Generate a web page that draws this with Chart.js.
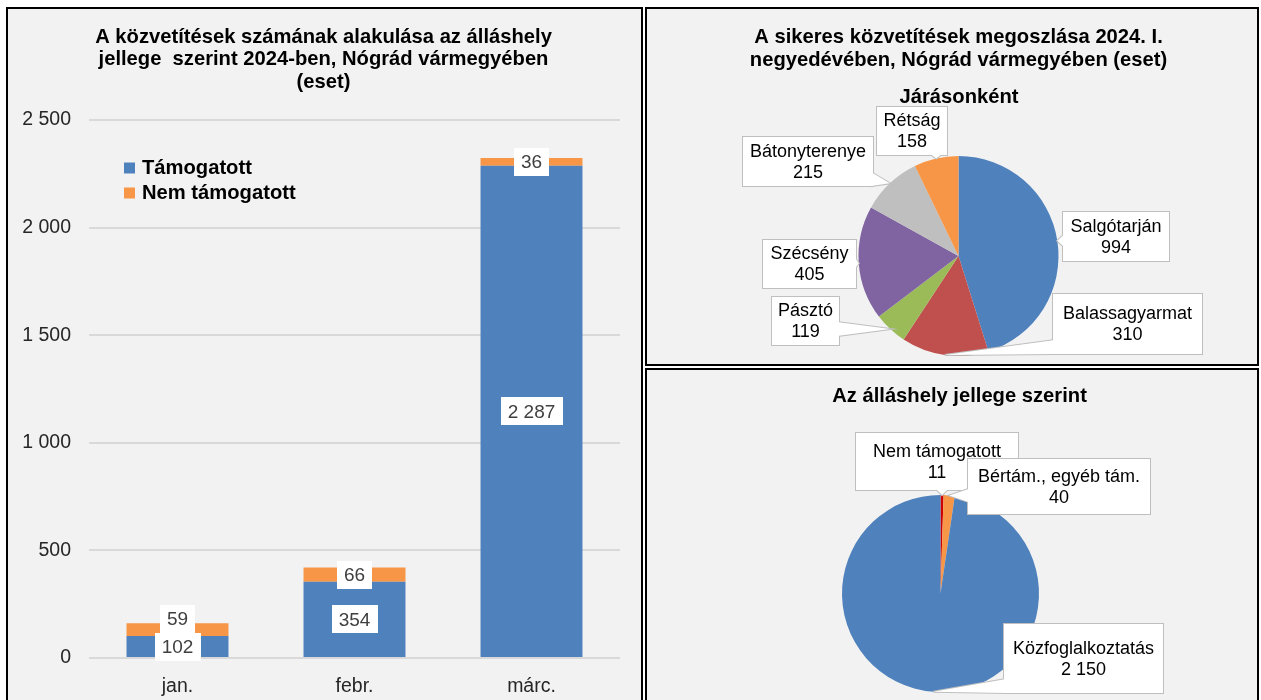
<!DOCTYPE html>
<html><head><meta charset="utf-8">
<script src="https://cdn.jsdelivr.net/npm/chart.js@4.4.1/dist/chart.umd.min.js"></script>
<style>
html,body{margin:0;padding:0;background:#fff;width:1261px;height:700px;overflow:hidden;}
.panel{position:absolute;box-sizing:border-box;border:2px solid #000;background:#f2f2f2;}
.panel canvas{display:block;}
#p1{left:6px;top:7px;width:637px;height:697px;}
#p2{left:645px;top:7px;width:614px;height:359px;}
#p3{left:645px;top:368px;width:614px;height:336px;}
</style></head><body>
<div class="panel" id="p1"><canvas id="c1" width="633" height="693"></canvas></div>
<div class="panel" id="p2"><canvas id="c2" width="610" height="355"></canvas></div>
<div class="panel" id="p3"><canvas id="c3" width="610" height="332"></canvas></div>
<script>
// ---- data ----
const months = ['jan.', 'febr.', 'márc.'];
const seriesNames = ['Támogatott', 'Nem támogatott'];
const supported = [102, 354, 2287];
const notSupported = [59, 66, 36];
const yTicks = [0, 500, 1000, 1500, 2000, 2500];

const districts = ['Salgótarján', 'Balassagyarmat', 'Pásztó', 'Szécsény', 'Bátonyterenye', 'Rétság'];
const districtValues = [994, 310, 119, 405, 215, 158];

const jobTypes = ['Nem támogatott', 'Bértám., egyéb tám.', 'Közfoglalkoztatás'];
const jobTypeValues = [11, 40, 2150];

// ---- styles ----
const FONT = "'Liberation Sans', Arial, sans-serif";
const BOLD = 'bold 20.2px ' + FONT;
const fmt = v => String(v).replace(/\B(?=(\d{3})+(?!\d))/g, ' ');
Chart.defaults.font.family = FONT;
Chart.defaults.animation = false;

const panelTitle = {
  id: 'panelTitle',
  afterDraw(chart, args, opts) {
    const ctx = chart.ctx; ctx.save();
    ctx.fillStyle = '#000'; ctx.textAlign = 'center'; ctx.textBaseline = 'middle';
    (opts.blocks || []).forEach(b => {
      ctx.font = b.font;
      b.lines.forEach((l, i) => ctx.fillText(l, b.x, b.y + i * b.lh));
    });
    ctx.restore();
  }
};

const boxLegend = {
  id: 'boxLegend',
  afterDraw(chart, args, opts) {
    const ctx = chart.ctx; ctx.save();
    ctx.font = BOLD; ctx.textBaseline = 'middle'; ctx.textAlign = 'left';
    chart.data.datasets.forEach((ds, i) => {
      const cy = opts.y + i * opts.dy;
      ctx.fillStyle = ds.backgroundColor;
      ctx.fillRect(opts.x, cy - 5.5, 11, 11);
      ctx.fillStyle = '#000';
      ctx.fillText(ds.label, opts.x + 18, cy);
    });
    ctx.restore();
  }
};

const barLabels = {
  id: 'barLabels',
  afterDatasetsDraw(chart) {
    const ctx = chart.ctx; ctx.save();
    ctx.font = '19px ' + FONT; ctx.textAlign = 'center'; ctx.textBaseline = 'middle';
    const h = 28, padX = 7;
    chart.data.labels.forEach((lab, j) => {
      let prevTop = Infinity;
      chart.data.datasets.forEach((ds, di) => {
        const el = chart.getDatasetMeta(di).data[j];
        const p = el.getProps(['x', 'y', 'base'], true);
        const text = fmt(ds.data[j]);
        const w = ctx.measureText(text).width + 2 * padX;
        let cy = (p.y + p.base) / 2;
        if (cy + h / 2 > prevTop) cy = prevTop - h / 2;
        ctx.fillStyle = '#fff';
        ctx.fillRect(Math.round(p.x - w / 2), Math.round(cy - h / 2), Math.round(w), h);
        ctx.fillStyle = '#404040';
        ctx.fillText(text, p.x, cy + 1);
        prevTop = cy - h / 2;
      });
    });
    ctx.restore();
  }
};

const callouts = {
  id: 'callouts',
  afterDatasetsDraw(chart, args, opts) {
    const ctx = chart.ctx; ctx.save();
    const meta = chart.getDatasetMeta(0);
    const labels = chart.data.labels, vals = chart.data.datasets[0].data;
    meta.data.forEach((arc, i) => {
      const p = arc.getProps(['x', 'y', 'startAngle', 'endAngle', 'outerRadius'], true);
      const mid = (p.startAngle + p.endAngle) / 2;
      const tx = p.x + Math.cos(mid) * p.outerRadius, ty = p.y + Math.sin(mid) * p.outerRadius;
      const L = opts.layout[i];
      const bw = L[2], bh = L[3];
      const bx = p.x + L[0] - bw / 2, by = p.y + L[1] - bh / 2;
      const hw = 7;
      const dxo = tx < bx ? bx - tx : (tx > bx + bw ? tx - bx - bw : 0);
      const dyo = ty < by ? by - ty : (ty > by + bh ? ty - by - bh : 0);
      let b1, b2;
      const clamp = (v, a, b) => Math.max(a, Math.min(b, v));
      if (dxo >= dyo) {
        const ex = tx < bx ? bx + 2 : bx + bw - 2;
        const c = clamp(ty, by + hw, by + bh - hw);
        b1 = [ex, c - hw]; b2 = [ex, c + hw];
      } else {
        const ey = ty < by ? by + 2 : by + bh - 2;
        const c = clamp(tx, bx + hw, bx + bw - hw);
        b1 = [c - hw, ey]; b2 = [c + hw, ey];
      }
      const tri = () => { ctx.beginPath(); ctx.moveTo(b1[0], b1[1]); ctx.lineTo(tx, ty); ctx.lineTo(b2[0], b2[1]); ctx.closePath(); };
      ctx.strokeStyle = '#bfbfbf'; ctx.lineWidth = 2;
      ctx.strokeRect(bx, by, bw, bh);
      tri(); ctx.stroke();
      ctx.fillStyle = '#fff';
      ctx.fillRect(bx, by, bw, bh);
      tri(); ctx.fill();
      ctx.fillStyle = '#000'; ctx.font = '18px ' + FONT;
      ctx.textAlign = 'center'; ctx.textBaseline = 'middle';
      const cx = bx + bw / 2, cy = by + bh / 2 + 1;
      ctx.fillText(labels[i], cx, cy - 10.5);
      ctx.fillText(fmt(vals[i]), cx, cy + 10.5);
    });
    ctx.restore();
  }
};

// ---- bar chart ----
new Chart(document.getElementById('c1'), {
  type: 'bar',
  data: {
    labels: months,
    datasets: [
      { label: seriesNames[0], data: supported, backgroundColor: '#4f81bd' },
      { label: seriesNames[1], data: notSupported, backgroundColor: '#f79646' }
    ]
  },
  options: {
    responsive: false, animation: false,
    datasets: { bar: { categoryPercentage: 1, barPercentage: 0.576, borderWidth: 0 } },
    layout: { padding: { top: 111, right: 21, bottom: 0, left: 0 } },
    scales: {
      x: {
        stacked: true,
        grid: { display: false }, border: { display: false },
        ticks: { color: '#262626', font: { size: 19.5 }, padding: 9 },
        afterFit: s => { s.height = 44; }
      },
      y: {
        stacked: true, min: 0, max: 2500,
        afterBuildTicks: a => { a.ticks = yTicks.map(v => ({ value: v })); },
        grid: { color: '#d9d9d9', lineWidth: 2, drawTicks: false }, border: { display: false },
        ticks: { color: '#262626', font: { size: 19.5 }, padding: 18, callback: v => fmt(v) },
        afterFit: s => { s.width = 81; }
      }
    },
    plugins: {
      legend: { display: false }, tooltip: { enabled: false },
      boxLegend: { x: 116, y: 159, dy: 25 },
      panelTitle: { blocks: [{ font: BOLD, x: 315.5, y: 28, lh: 22.5,
        lines: ['A közvetítések számának alakulása az álláshely', 'jellege  szerint 2024-ben, Nógrád vármegyében', '(eset)'] }] }
    }
  },
  plugins: [barLabels, boxLegend, panelTitle]
});

// ---- pie: districts ----
new Chart(document.getElementById('c2'), {
  type: 'pie',
  data: {
    labels: districts,
    datasets: [{ data: districtValues, borderWidth: 0, hoverOffset: 0, radius: 100,
      backgroundColor: ['#4f81bd', '#c0504d', '#9bbb59', '#8064a2', '#bfbfbf', '#f79646'] }]
  },
  options: {
    responsive: false, animation: false,
    layout: { padding: { left: 206.5, right: 193.5, top: 142, bottom: 3 } },
    plugins: {
      legend: { display: false }, tooltip: { enabled: false },
      callouts: { layout: [
        [157.5, -19.5, 106, 49],
        [169, 68, 149, 60],
        [-153, 65, 67, 48],
        [-149, 8, 93, 48],
        [-150.5, -94.5, 130, 49],
        [-46.5, -125, 70, 48]
      ] },
      panelTitle: { blocks: [
        { font: BOLD, x: 311.5, y: 28, lh: 23.5,
          lines: ['A sikeres közvetítések megoszlása 2024. I.', 'negyedévében, Nógrád vármegyében (eset)'] },
        { font: BOLD, x: 312, y: 88, lh: 23, lines: ['Járásonként'] }
      ] }
    }
  },
  plugins: [callouts, panelTitle]
});

// ---- pie: job type ----
new Chart(document.getElementById('c3'), {
  type: 'pie',
  data: {
    labels: jobTypes,
    datasets: [{ data: jobTypeValues, borderWidth: 0, hoverOffset: 0, radius: 98.5,
      backgroundColor: ['#d00000', '#f79646', '#4f81bd'] }]
  },
  options: {
    responsive: false, animation: false,
    layout: { padding: { left: 189.5, right: 212.5, top: 119.5, bottom: 4.5 } },
    plugins: {
      legend: { display: false }, tooltip: { enabled: false },
      callouts: { layout: [
        [-3.5, -132, 162, 57],
        [118.5, -107, 182, 55],
        [143, 65, 159, 69]
      ] },
      panelTitle: { blocks: [
        { font: BOLD, x: 312.5, y: 26, lh: 23, lines: ['Az álláshely jellege szerint'] }
      ] }
    }
  },
  plugins: [callouts, panelTitle]
});
</script>
</body></html>
